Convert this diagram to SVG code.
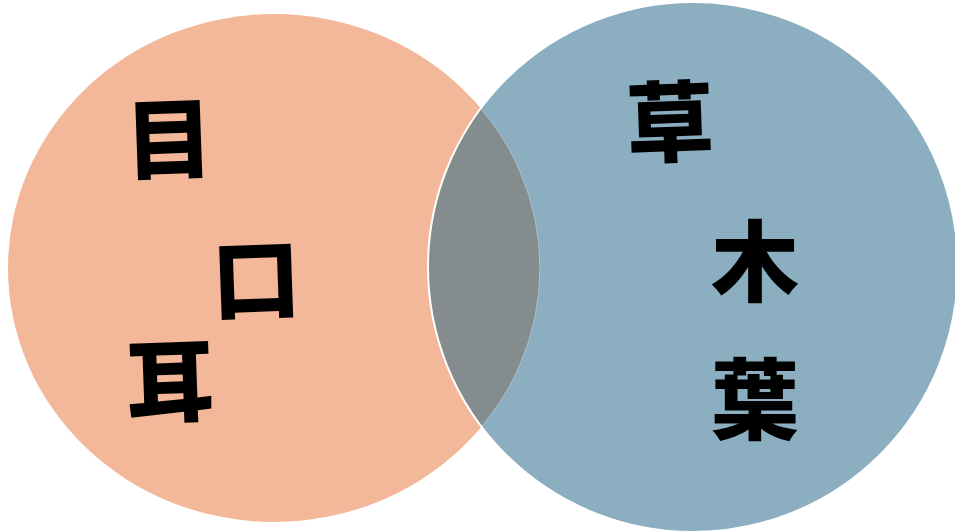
<svg xmlns="http://www.w3.org/2000/svg" width="955" height="532" viewBox="0 0 955 532">
<style>
.lbl{font-family:"Noto Sans CJK JP","Noto Sans CJK SC",sans-serif;font-weight:900;font-size:88px;fill:#000;text-anchor:middle}
</style>
<defs>
<clipPath id="clipL"><ellipse cx="274" cy="268" rx="266" ry="254"/></clipPath>
<clipPath id="clipR"><ellipse cx="693" cy="267" rx="265" ry="265"/></clipPath>
</defs>
<rect width="955" height="532" fill="#fff"/>
<g id="circle-left"><ellipse cx="274" cy="268" rx="266" ry="254" fill="#F3B899"/></g>
<g id="circle-right"><ellipse cx="693" cy="267" rx="265" ry="265" fill="#8BAEC0"/></g>
<g id="overlap">
<ellipse cx="693" cy="267" rx="265" ry="265" fill="#858C8D" clip-path="url(#clipL)"/>
<ellipse cx="274" cy="268" rx="266" ry="254" fill="none" stroke="#A9C4D1" stroke-width="1" clip-path="url(#clipR)"/>
<ellipse cx="693" cy="267" rx="265" ry="265" fill="none" stroke="#fff" stroke-width="2"/>
</g>
<g id="t-me"><text class="lbl" x="169" y="172" transform="rotate(-2 169 140)">目</text></g>
<g id="t-kuchi"><text class="lbl" x="256" y="312" transform="rotate(-2 256 280)">口</text></g>
<g id="t-mimi"><text class="lbl" x="170" y="415" transform="rotate(-2 170 383)">耳</text></g>
<g id="t-kusa"><text class="lbl" x="670" y="155" transform="rotate(-2 670 123)">草</text></g>
<g id="t-ki"><text class="lbl" x="755" y="294">木</text></g>
<g id="t-ha"><text class="lbl" x="755" y="432">葉</text></g>
</svg>
